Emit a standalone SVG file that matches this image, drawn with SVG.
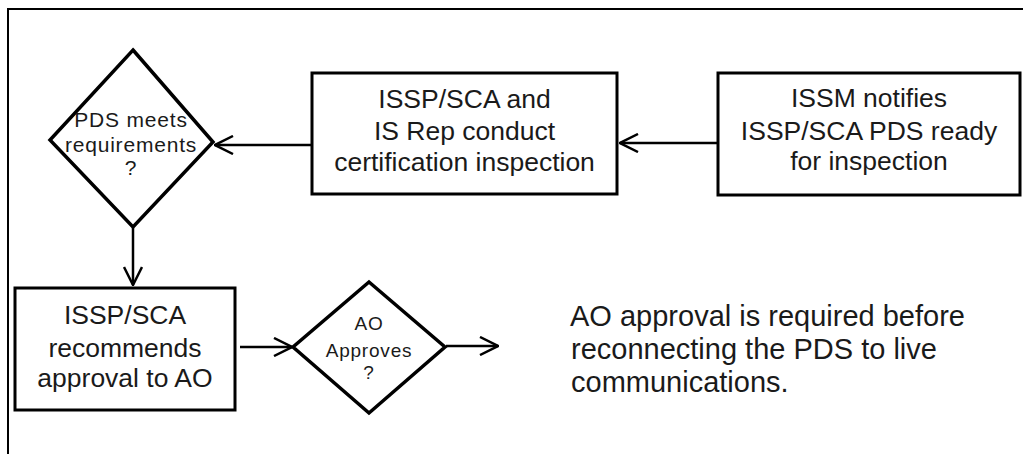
<svg xmlns="http://www.w3.org/2000/svg" width="1023" height="454" viewBox="0 0 1023 454">
<defs>
<style>
.node{fill:#fff;stroke:#000;stroke-width:3}
.dia{fill:#fff;stroke:#000;stroke-width:3.5;stroke-linejoin:miter}
.t{font-family:"Liberation Sans",Arial,sans-serif;fill:#1a1a1a;text-anchor:middle}
.big{font-size:26.5px}
.mid{font-size:21px;letter-spacing:0.8px}
.sm{font-size:19px;letter-spacing:0.8px}
.note{font-family:"Liberation Sans",Arial,sans-serif;fill:#1a1a1a;font-size:29px}
.conn{stroke:#000;stroke-width:2.5;fill:none}
</style>
<marker id="arr" viewBox="0 0 20 20" refX="19" refY="10" markerWidth="20" markerHeight="20" markerUnits="userSpaceOnUse" orient="auto">
<path d="M1,1 L19,10 L1,19" fill="none" stroke="#000" stroke-width="2.5"/>
</marker>
</defs>
<rect width="1023" height="454" fill="#fff"/>
<rect x="8" y="9" width="1040" height="470" fill="none" stroke="#000" stroke-width="2"/>
<g id="connectors">
<line class="conn" x1="717" y1="143" x2="620" y2="143" marker-end="url(#arr)"/>
<line class="conn" x1="312" y1="145" x2="215" y2="145" marker-end="url(#arr)"/>
<line class="conn" x1="133" y1="228" x2="133" y2="285" marker-end="url(#arr)"/>
<line class="conn" x1="240" y1="347" x2="292" y2="347" marker-end="url(#arr)"/>
<line class="conn" x1="446" y1="346" x2="498" y2="346" marker-end="url(#arr)"/>
</g>
<g id="notify">
<rect class="node" x="718" y="73" width="302" height="122"/>
<text class="t big" x="869" y="107">ISSM notifies</text>
<text class="t big" x="869" y="140">ISSP/SCA PDS ready</text>
<text class="t big" x="869" y="170">for inspection</text>
</g>
<g id="inspect">
<rect class="node" x="312" y="73" width="305" height="121"/>
<text class="t big" x="464.5" y="108">ISSP/SCA and</text>
<text class="t big" x="464.5" y="140">IS Rep conduct</text>
<text class="t big" x="464.5" y="171">certification inspection</text>
</g>
<g id="meets">
<polygon class="dia" points="133,50 213,142 133,227 50,140"/>
<text class="t mid" x="131" y="127">PDS meets</text>
<text class="t mid" x="131" y="152">requirements</text>
<text class="t mid" x="131" y="175">?</text>
</g>
<g id="recommend">
<rect class="node" x="15" y="288" width="220" height="122"/>
<text class="t big" x="125" y="324">ISSP/SCA</text>
<text class="t big" x="125" y="357">recommends</text>
<text class="t big" x="125" y="387">approval to AO</text>
</g>
<g id="approves">
<polygon class="dia" points="369,282 445,347 369,413 293,347"/>
<text class="t sm" x="369" y="330">AO</text>
<text class="t sm" x="369" y="357">Approves</text>
<text class="t sm" x="369" y="379">?</text>
</g>
<g id="note">
<text class="note" x="570" y="326">AO approval is required before</text>
<text class="note" x="571" y="359">reconnecting the PDS to live</text>
<text class="note" x="571" y="392">communications.</text>
</g>
</svg>
